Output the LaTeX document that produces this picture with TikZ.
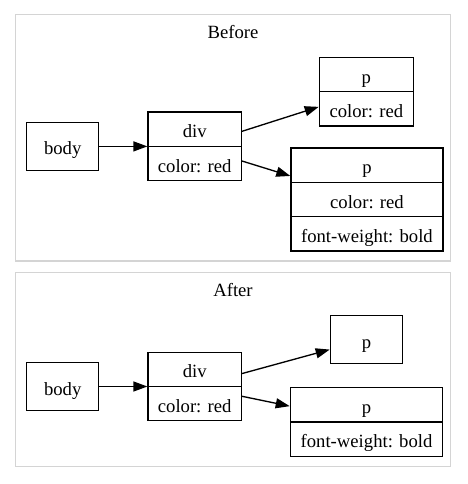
\documentclass[tikz,border=0pt]{standalone}
\usepackage{fontspec}
\setmainfont{Liberation Serif}
\usetikzlibrary{positioning,arrows.meta,shapes.multipart}
\newcommand{\row}{\rule[-8pt]{0pt}{33pt}}

\begin{document}
\begin{tikzpicture}[
x=1pt, y=-1pt,
node distance=48pt,
font=\fontsize{18.67}{22}\selectfont,
cluster/.style={draw=black!17, line width=1.33pt},
leaf/.style={draw, line width=1.33pt, inner sep=0pt, minimum height=48pt},
record/.style={draw, line width=1.33pt, inner xsep=0pt, inner ysep=0pt, rectangle split, rectangle split parts=#1},
arrow/.style={-{Triangle[length=14pt, width=10pt]}, line width=1.33pt}
]
\useasboundingbox (0,0) rectangle (467,484);
% before
\draw[cluster] (15.7,14.3) rectangle (450.3,261);
\node[anchor=base] (before) at (233,39) {Before};
\node[leaf, minimum width=72pt] (body1) at (62.7,146.4) {\row body};
\node[record=2, minimum width=93.3pt, right=of body1] (div1) {\row div \nodepart{two}\row color: red};
\node[record=2, minimum width=94pt, right=76.7pt of div1, yshift=54.7pt] (p1) {\row p \nodepart{two}\row color: red};
\node[record=3, minimum width=152pt, right=48.3pt of div1, yshift=-53.2pt] (p2) {\row p \nodepart{two}\row color: red \nodepart{three}\row font-weight: bold};
\draw[arrow] (body1) -- (div1);
\draw[arrow] (div1) -- (p1);
\draw[arrow] (div1) -- (p2);
% after
\draw[cluster] (15.7,272.3) rectangle (450.5,466.7);
\node[anchor=base] (after) at (233,296) {After};
\node[leaf, minimum width=72pt] (body2) at (62.7,386.5) {\row body};
\node[record=2, minimum width=93.3pt, right=of body2] (div2) {\row div \nodepart{two}\row color: red};
\node[leaf, minimum width=72.3pt, right=87.7pt of div2, yshift=47pt] (q1) {\row p};
\node[record=2, minimum width=152.3pt, right=47.7pt of div2, yshift=-35.5pt] (q2) {\row p \nodepart{two}\row font-weight: bold};
\draw[arrow] (body2) -- (div2);
\draw[arrow] (div2) -- (q1);
\draw[arrow] (div2) -- (q2);
\end{tikzpicture}
\end{document}
